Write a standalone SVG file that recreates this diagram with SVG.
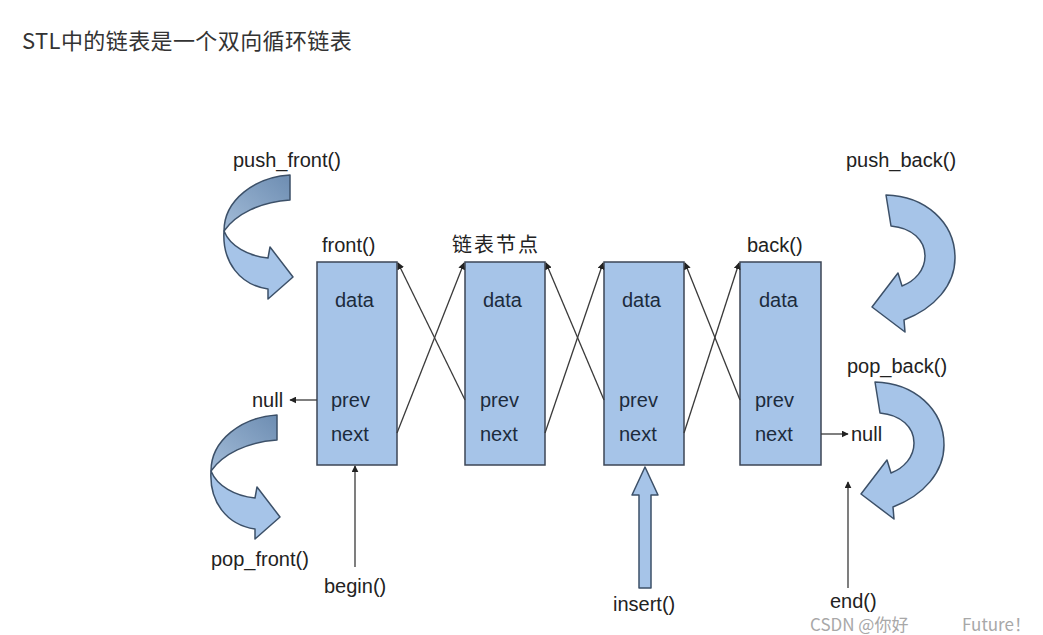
<svg xmlns="http://www.w3.org/2000/svg" width="1043" height="635" viewBox="0 0 1043 635">
<style>
.lbl{font-family:"Liberation Sans",Arial,sans-serif;font-size:20px;fill:#222}
.fld{font-family:"Liberation Sans",Arial,sans-serif;font-size:20px;fill:#1c2b3c}
.box{fill:#a6c4e8;stroke:#3c4656;stroke-width:1.5}
.ln{stroke:#3a3a3a;stroke-width:1.3;fill:none}
.blk{fill:#a6c4e8;stroke:#3c5068;stroke-width:1.5;stroke-linejoin:round}
.dark{fill:url(#dg);stroke:#3c5068;stroke-width:1.5;stroke-linejoin:round}
.cjk{font-family:"Noto Sans CJK SC","Liberation Sans",sans-serif}
</style>
<defs>
<marker id="ah" viewBox="0 0 10 10" refX="9" refY="5" markerWidth="7" markerHeight="7" markerUnits="userSpaceOnUse" orient="auto">
<path d="M0,0 L10,5 L0,10 Z" fill="#222"/>
</marker>
<linearGradient id="dg" x1="1" y1="0" x2="0" y2="1">
<stop offset="0" stop-color="#6d8db2"/>
<stop offset="1" stop-color="#a3bcd8"/>
</linearGradient>
<g id="frontArrow">
<path class="dark" d="M290,175 C255,177 224,200 224,231 C236,214 260,202 290,200 Z"/>
<path class="blk" d="M224,231 C230,246 248,256 268,258 L270,247 L293,277 L268,299 L268,289 C240,285 222,262 224,231 Z"/>
</g>
<path id="backArrow" class="blk" d="M886,195 L891,226 C912,228 925,240 925,256 C925,270 915,281 902,286 L898,273 L872,307 L905,332 L904,320 C935,308 955,285 955,258 C955,222 925,196 886,195 Z"/>
</defs>
<rect width="1043" height="635" fill="#fff"/>

<text class="cjk" x="22" y="49" font-size="22" letter-spacing="0.4" fill="#333">STL中的链表是一个双向循环链表</text>

<g id="push_front">
<use href="#frontArrow"/>
<text class="lbl" x="233" y="167">push_front()</text>
</g>
<g id="pop_front">
<use href="#frontArrow" transform="translate(-13,240)"/>
<text class="lbl" x="211" y="566">pop_front()</text>
</g>
<g id="push_back">
<use href="#backArrow"/>
<text class="lbl" x="846" y="167">push_back()</text>
</g>
<g id="pop_back">
<use href="#backArrow" transform="translate(-11,187)"/>
<text class="lbl" x="847" y="373">pop_back()</text>
</g>

<g id="node1">
<rect class="box" x="317" y="262" width="80" height="203"/>
<text class="lbl" x="322" y="252">front()</text>
<text class="fld" x="335" y="307">data</text>
<text class="fld" x="331" y="407">prev</text>
<text class="fld" x="331" y="441">next</text>
</g>
<g id="node2">
<rect class="box" x="465" y="262" width="80" height="203"/>
<text class="lbl cjk" x="452" y="252" letter-spacing="2">链表节点</text>
<text class="fld" x="483" y="307">data</text>
<text class="fld" x="480" y="407">prev</text>
<text class="fld" x="480" y="441">next</text>
</g>
<g id="node3">
<rect class="box" x="604" y="262" width="80" height="203"/>
<text class="fld" x="622" y="307">data</text>
<text class="fld" x="619" y="407">prev</text>
<text class="fld" x="619" y="441">next</text>
</g>
<g id="node4">
<rect class="box" x="740" y="262" width="81" height="203"/>
<text class="lbl" x="747" y="252">back()</text>
<text class="fld" x="759" y="307">data</text>
<text class="fld" x="755" y="407">prev</text>
<text class="fld" x="755" y="441">next</text>
</g>

<g id="null_left">
<text class="lbl" x="252" y="407">null</text>
</g>
<g id="null_right">
<text class="lbl" x="851" y="441">null</text>
</g>
<g id="begin">
<text class="lbl" x="324" y="593">begin()</text>
</g>
<g id="insert">
<polygon class="blk" points="639,588 651,588 651,495 658,495 645,467 632,495 639,495"/>
<text class="lbl" x="613" y="611">insert()</text>
</g>
<g id="end">
<text class="lbl" x="830" y="608">end()</text>
</g>

<g id="connectors">
<line class="ln" x1="397" y1="433" x2="464" y2="263" marker-end="url(#ah)"/>
<line class="ln" x1="465" y1="400" x2="398" y2="263" marker-end="url(#ah)"/>
<line class="ln" x1="545" y1="433" x2="603" y2="263" marker-end="url(#ah)"/>
<line class="ln" x1="604" y1="400" x2="546" y2="263" marker-end="url(#ah)"/>
<line class="ln" x1="684" y1="433" x2="739" y2="263" marker-end="url(#ah)"/>
<line class="ln" x1="740" y1="400" x2="685" y2="263" marker-end="url(#ah)"/>
<line class="ln" x1="317" y1="400" x2="290" y2="400" marker-end="url(#ah)"/>
<line class="ln" x1="821" y1="434" x2="848" y2="434" marker-end="url(#ah)"/>
<line class="ln" x1="355" y1="567" x2="355" y2="466" marker-end="url(#ah)"/>
<line class="ln" x1="848" y1="588" x2="848" y2="482" marker-end="url(#ah)"/>
</g>

<text class="cjk" y="631" font-size="17" fill="#a8a8a8"><tspan x="810">CSDN @你好</tspan><tspan x="962">Future</tspan><tspan x="1014">！</tspan></text>
</svg>
